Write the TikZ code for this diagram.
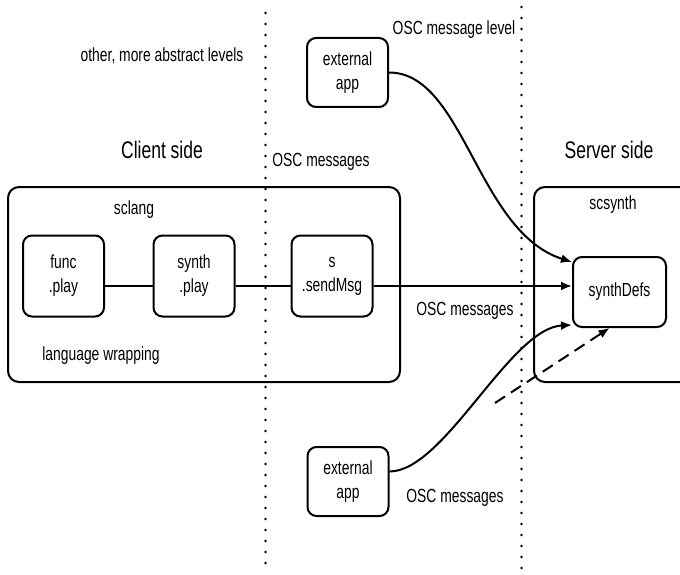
\documentclass[tikz,border=0pt]{standalone}
\usepackage{fontspec}
\setmainfont{Liberation Sans}[FakeStretch=0.73]
\usepackage{tikz}
\usetikzlibrary{arrows.meta,positioning}

\begin{document}
\begin{tikzpicture}[
    x=1pt, y=-1pt,
    >={Latex[length=11pt,width=9pt]},
    font=\fontsize{19}{24}\selectfont,
    block/.style={
		rectangle,
		rounded corners=9pt,
		draw=black,
		line width=2pt,
		align=center,
		inner sep=0pt,
		minimum width=81pt,
		minimum height=81pt
	},
	side/.style={
		rectangle,
		rounded corners=11pt,
		draw=black,
		line width=2pt,
		minimum height=195pt
	},
	level/.style={
		draw=black,
		line width=2.6pt,
		line cap=round,
		dash pattern=on 0pt off 11pt
	},
	msg/.style={
		line width=2pt
	},
	header/.style={
		font=\fontsize{24}{28}\selectfont
	}
  ]
  \useasboundingbox (0,0) rectangle (680,575);

    % the two level borders
  \draw [level] (265.5,13) -- (265.5,572);
  \draw [level] (521.5,7) -- (521.5,575);

    % client and server side
  \node [side, minimum width=392pt] (client) at (204,284.5) {};
  \node [side, minimum width=180pt] (server) at (624,284.5) {};

    % We start by placing the blocks
  \node [block] (funcplay) at (63.5,276) {func\\.play};
  \node [block] (synthplay) at (194,276) {synth\\.play};
  \node [block] (sendmsg) at (332,276) {s\\.sendMsg};
  \node [block, minimum width=93pt, minimum height=70pt] (synthdefs) at (619.5,292) {synthDefs};
  \node [block, minimum height=69pt] (extapp1) at (347.5,72.5) {external\\app};
  \node [block, minimum height=69pt] (extapp2) at (348,481.5) {external\\app};
  \coordinate (dashstart) at (495,403);

    % labels
  \node (abstract) at (162,56) {other, more abstract levels};
  \node [header] (clientside) at (162,150) {Client side};
  \node [header] (serverside) at (609,150) {Server side};
  \node (osclevel) at (454,30) {OSC message level};
  \node (oscupper) at (321,162) {OSC messages};
  \node (sclang) at (134,210) {sclang};
  \node (scsynth) at (613,205) {scsynth};
  \node (wrapping) at (101,356) {language wrapping};
  \node (oscmid) at (465,311) {OSC messages};
  \node (osclower) at (455,498) {OSC messages};

 \draw [msg] ([yshift=-10pt]funcplay.east) -- ([yshift=-10pt]synthplay.west);
 \draw [msg] ([yshift=-10pt]synthplay.east) -- ([yshift=-10pt]sendmsg.west);
 \draw [msg,->] ([yshift=-10pt]sendmsg.east) -- ([yshift=-10pt]sendmsg.east -| synthdefs.west);
 \draw [msg,->] (extapp1.east) .. controls +(75,0) and +(-95,-30) .. ([yshift=30pt]synthdefs.west);
 \draw [msg,->] ([yshift=10pt]extapp2.east) .. controls +(55,0) and +(-62,3) .. ([yshift=-33pt]synthdefs.west);
 \draw [msg,->,dash pattern=on 12pt off 7pt] (dashstart) -- ([xshift=-10pt]synthdefs.south);

\end{tikzpicture}
\end{document}
